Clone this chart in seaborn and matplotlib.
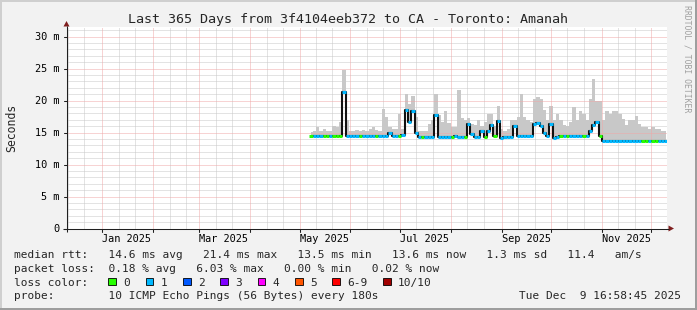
import numpy as np
import pandas as pd
import matplotlib
matplotlib.use("Agg")
import matplotlib.pyplot as plt
import seaborn as sns
from matplotlib.patches import Polygon, Rectangle

# ---------------- data ----------------
first_sample = "2025-05-08"          # samples every 2 days from here
sample_step_days = 2
median_ms = [14.45, 14.45, 14.45, 14.45, 14.45, 14.45, 14.45, 14.45, 14.45, 14.45,
             21.4, 14.45, 14.45, 14.45, 14.45, 14.45, 14.45, 14.45, 14.45, 14.45,
             14.45, 14.45, 14.45, 14.45, 15.0, 14.45, 14.45, 14.45, 14.6, 18.5,
             16.7, 18.4, 15.0, 14.25, 14.25, 14.25, 14.25, 14.25, 17.8, 14.3,
             14.3, 14.3, 14.3, 14.3, 14.5, 14.3, 14.3, 14.3, 16.4, 14.8,
             14.3, 14.3, 15.3, 14.3, 15.3, 16.2, 14.4, 16.8, 14.2, 14.35,
             14.35, 14.35, 16.0, 14.4, 14.4, 14.4, 14.4, 14.4, 16.4, 16.5,
             16.0, 15.0, 14.4, 16.4, 14.2, 14.3, 14.4, 14.4, 14.4, 14.4,
             14.4, 14.4, 14.4, 14.4, 14.4, 15.2, 16.1, 16.6, 14.4, 13.7,
             13.65, 13.6, 13.6, 13.6, 13.6, 13.6, 13.6, 13.6, 13.6, 13.6,
             13.6, 13.6, 13.6, 13.6, 13.6, 13.6, 13.6, 13.6, 13.6]
smoke_top_ms = [15.05, 15.2, 15.8, 15.3, 15.5, 15.2, 15.3, 16.0, 15.8, 16.6,
                24.8, 16.9, 15.3, 15.2, 15.4, 15.3, 15.4, 15.2, 15.6, 15.8,
                15.4, 15.2, 18.6, 17.4, 15.8, 15.5, 15.6, 17.9, 15.6, 21.0,
                19.5, 20.7, 17.5, 15.3, 15.2, 15.3, 16.4, 16.9, 21.0, 17.7,
                16.6, 18.4, 16.5, 15.8, 15.8, 21.7, 17.2, 16.9, 17.2, 16.4,
                16.2, 16.9, 16.0, 16.6, 17.9, 17.9, 16.0, 19.2, 15.5, 15.3,
                15.5, 16.9, 16.9, 17.5, 21.0, 17.5, 17.0, 16.6, 20.3, 20.6,
                20.2, 18.5, 17.0, 19.1, 17.0, 17.9, 16.9, 16.2, 16.0, 16.6,
                19.0, 16.9, 18.4, 17.9, 17.0, 20.3, 23.4, 20.0, 20.0, 16.9,
                18.4, 17.9, 18.4, 18.4, 17.9, 17.1, 16.1, 16.9, 16.9, 17.6,
                16.4, 15.8, 15.8, 15.5, 15.8, 15.5, 15.5, 15.2, 15.2]
lost_pings = [0, 1, 1, 1, 0, 0, 1, 0, 0, 0,
              1, 1, 1, 1, 1, 0, 1, 1, 1, 1,
              0, 1, 1, 1, 1, 1, 1, 0, 1, 1,
              1, 1, 1, 1, 0, 1, 1, 1, 1, 1,
              1, 1, 1, 0, 1, 1, 1, 0, 1, 1,
              1, 1, 1, 0, 1, 1, 0, 1, 1, 1,
              1, 1, 1, 1, 1, 1, 1, 1, 1, 1,
              1, 1, 1, 1, 1, 1, 0, 1, 0, 1,
              1, 1, 1, 0, 1, 1, 1, 1, 0, 1,
              1, 1, 1, 1, 1, 1, 1, 1, 1, 1,
              1, 0, 0, 1, 0, 0, 1, 1, 1]

y_ticks_ms = [0, 5, 10, 15, 20, 25, 30]
y_tick_labels = ["0", "5 m", "10 m", "15 m", "20 m", "25 m", "30 m"]
x_label_months = ["2025-01", "2025-03", "2025-05", "2025-07", "2025-09", "2025-11"]
x_label_texts = ["Jan 2025", "Mar 2025", "May 2025", "Jul 2025", "Sep 2025", "Nov 2025"]

loss_labels = ["0", "1", "2", "3", "4", "5", "6-9", "10/10"]
loss_colors = ["#26ff00", "#00b8ff", "#0059ff", "#7e00ff", "#ff00ff", "#ff5500", "#ff0000", "#a10000"]

title = "Last 365 Days from 3f4104eeb372 to CA - Toronto: Amanah"
legend_lines = [
    "median rtt:   14.6 ms avg   21.4 ms max   13.5 ms min   13.6 ms now   1.3 ms sd   11.4   am/s",
    "packet loss:  0.18 % avg   6.03 % max   0.00 % min   0.02 % now",
    "loss color:",
    "probe:        10 ICMP Echo Pings (56 Bytes) every 180s",
]
stamp = "Tue Dec  9 16:58:45 2025"
watermark = "RRDTOOL / TOBI OETIKER"

# ---------------- build frame ----------------
origin = pd.Timestamp("2025-01-01")
dates = pd.date_range(first_sample, periods=len(median_ms), freq=f"{sample_step_days}D")
df = pd.DataFrame({
    "day": (dates - origin).days.astype(float),
    "median": median_ms,
    "top": smoke_top_ms,
    "loss": lost_pings,
})

view_start = -21.75
view_end = view_start + 365.0

W, H = 697, 310
MONO = "DejaVu Sans Mono"
sns.set_style("white")
plt.rcParams["font.family"] = [MONO, "DejaVu Sans"]

fig = plt.figure(figsize=(W / 100, H / 100), dpi=100)
fig.patch.set_facecolor("#f2f2f2")

px_per_ms = 6.4
ax = fig.add_axes([66.5 / W, (H - 228.5) / H, 600 / W, 201.5 / H])
ax.set_facecolor("white")
ax.set_xlim(view_start, view_end)
ax.set_ylim(0, 201.5 / px_per_ms)
for s in ax.spines.values():
    s.set_visible(False)

# grid
grid_ls = (0, (1, 1))
minor_c = "#c8c8c8"
major_c = "#f0a8a8"
for v in range(1, 32):
    if v % 5:
        ax.axhline(v, color=minor_c, lw=0.72, ls=grid_ls, zorder=2, snap=True)
for v in y_ticks_ms[1:]:
    ax.axhline(v, color=major_c, lw=0.72, ls=grid_ls, zorder=2.1, snap=True)

months = pd.date_range("2024-12-01", "2025-12-31", freq="MS")
for m in months:
    d0 = (m - origin).days
    ax.axvline(d0, color=major_c, lw=0.72, ls=grid_ls, zorder=2.1, snap=True)
    for dd in (10, 20):
        ax.axvline(d0 + dd, color=minor_c, lw=0.72, ls=grid_ls, zorder=2, snap=True)

# smoke
ax.fill_between(df["day"], df["median"], df["top"], step="mid",
                color="#c8c8c8", lw=0, zorder=1)

# median: black risers + loss-coloured steps
sns.lineplot(data=df, x="day", y="median", ax=ax, estimator=None,
             drawstyle="steps-mid", color="#111111", lw=1.5, zorder=3)
half = sample_step_days / 2
ax.hlines(df["median"], df["day"] - half, df["day"] + half,
          colors=[loss_colors[int(l)] for l in df["loss"]], lw=2.2, zorder=4)

ax.set_xlabel("")
ax.set_ylabel("")

# ticks
ax.set_yticks(y_ticks_ms)
ax.set_yticklabels(y_tick_labels)
lab_pos = [(pd.Timestamp(m + "-01") - origin).days + 15 for m in x_label_months]
ax.set_xticks(lab_pos)
ax.set_xticklabels(x_label_texts)
ax.tick_params(axis="both", which="major", length=0, labelsize=7.4, colors="black")
ax.tick_params(axis="y", pad=5.0)
ax.tick_params(axis="x", pad=3.6)

# ---------------- overlay decorations (pixel coordinates) ----------------
ov = fig.add_axes([0, 0, 1, 1], zorder=10)
ov.set_xlim(0, W)
ov.set_ylim(H, 0)
ov.axis("off")
ov.patch.set_alpha(0)

# frame shading
ov.add_patch(Rectangle((0, 0), W, 2, color="#cfcfcf", lw=0))
ov.add_patch(Rectangle((0, 0), 2, H, color="#cfcfcf", lw=0))
ov.add_patch(Rectangle((0, H - 2), W, 2, color="#9e9e9e", lw=0))
ov.add_patch(Rectangle((W - 2, 0), 2, H, color="#9e9e9e", lw=0))

axis_c = "#1f1f1f"
ov.plot([63, 669], [228.5, 228.5], color=axis_c, lw=0.75, solid_capstyle="butt")
ov.plot([66.5, 66.5], [231.5, 26], color=axis_c, lw=0.75, solid_capstyle="butt")
# tick marks on axes
for v in y_ticks_ms:
    yy = 228.5 - v * px_per_ms
    ov.plot([63.5, 66.5], [yy, yy], color=axis_c, lw=0.75, snap=True)
for m in months:
    d0 = (m - origin).days
    if view_start <= d0 <= view_end:
        xx = 66.5 + (d0 - view_start) * 600 / 365.0
        ov.plot([xx, xx], [228.5, 231.5], color=axis_c, lw=0.75, snap=True)
arrow_c = "#801f1f"
ov.add_patch(Polygon([(63.5, 26.5), (69.5, 26.5), (66.5, 21.0)], closed=True, color=arrow_c, lw=0))
ov.add_patch(Polygon([(668.5, 225.5), (668.5, 231.5), (674.0, 228.5)], closed=True, color=arrow_c, lw=0))

# texts
ov.text(W / 2, 23.3, title, ha="center", va="baseline", fontsize=9.6, family=MONO)
ov.text(11.5, 127.5, "Seconds", rotation=90, ha="center", va="center", fontsize=8.3, family=MONO)
ov.text(687, 5, watermark, rotation=-90, ha="center", va="top", fontsize=5.9,
        family=MONO, color="#a0a0a0")

char_w = 6.66
base_y = [258.3, 271.8, 285.6, 299.3]
for txt, by in zip(legend_lines, base_y):
    ov.text(14.0, by, txt, ha="left", va="baseline", fontsize=8, family=MONO)
ov.text(681, base_y[3], stamp, ha="right", va="baseline", fontsize=8, family=MONO)

bx = 108.3
for lab, col in zip(loss_labels, loss_colors):
    ov.add_patch(Rectangle((bx, 277.7), 7.7, 7.7, facecolor=col, edgecolor="black", lw=0.6))
    ov.text(bx + 15, base_y[2], lab, ha="left", va="baseline", fontsize=8, family=MONO)
    bx = bx + 15 + len(lab) * char_w + 15.7

fig.savefig("out.png", dpi=100, facecolor=fig.get_facecolor())
